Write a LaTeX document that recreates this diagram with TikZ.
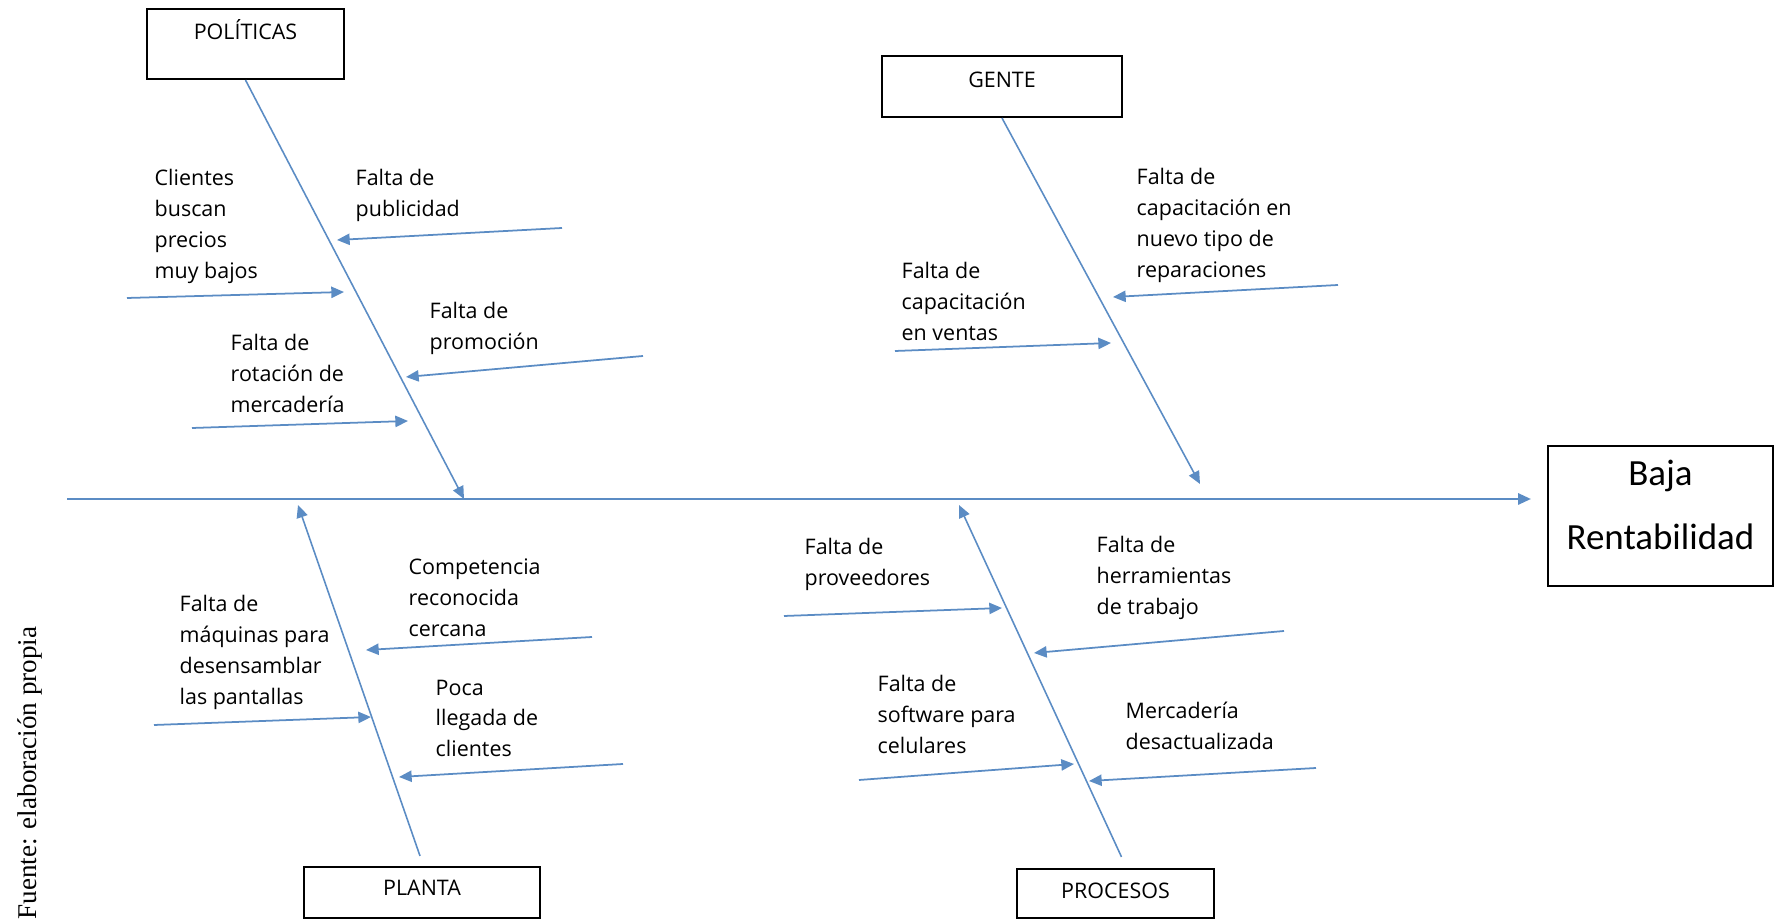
\documentclass[tikz,border=0pt]{standalone}
\usepackage{fontspec}
\setmainfont{Liberation Serif}
\newfontfamily\causafont{Open Sans}
\newfontfamily\efectofont{Carlito}
\usetikzlibrary{arrows.meta, calc}
\definecolor{espina}{RGB}{91,140,196}
\tikzset{
  categoria/.style={
    draw,
    rectangle,
    line width=0.6pt,
    inner sep=0pt,
    text height=4.5pt,
    font=\causafont\fontsize{6.1}{8.8}\selectfont
  },
  efecto/.style={
    draw,
    rectangle,
    line width=0.6pt,
    inner sep=0pt,
    align=center,
    font=\efectofont\fontsize{10.5}{18.2}\selectfont
  },
  causa/.style={
    anchor=north west,
    inner sep=0pt,
    align=left,
    font=\causafont\fontsize{6.1}{8.8}\selectfont
  },
  flecha/.style={
    draw=espina,
    line width=0.5pt,
    -{Triangle[length=3.6pt,width=3.2pt]}
  }
}

\begin{document}
\begin{tikzpicture}[x=0.01cm, y=-0.01cm]
        \useasboundingbox (0,0) rectangle (1775,919);

        % efecto y categorias
        \node[efecto, minimum width=2.25cm, minimum height=1.40cm, text depth=6.3pt] (efe) at (1660.5,516) {Baja\\Rentabilidad};
        \node[categoria, minimum width=1.97cm, minimum height=0.70cm, text depth=7pt] (pol) at (245.5,44) {POLÍTICAS};
        \node[categoria, minimum width=2.40cm, minimum height=0.61cm, text depth=3.9pt] (gen) at (1002,86.5) {GENTE};
        \node[categoria, minimum width=2.36cm, minimum height=0.51cm, text depth=2.8pt] (pla) at (422,892.5) {PLANTA};
        \node[categoria, minimum width=1.97cm, minimum height=0.49cm, text depth=1.6pt] (pro) at (1115.5,893.5) {PROCESOS};

        % espina central
        \coordinate (m0) at (67,499);
        \draw[flecha] (m0) -- ($(m0 -| efe.west)+(-16,0)$);

        % espinas de las categorias
        \coordinate (p0) at (464,499);
        \coordinate (g0) at (1200,484);
        \coordinate (l0) at (298,505);
        \coordinate (r0) at (959,505);
        \draw[flecha, line width=0.45pt] (pol.south) -- (p0);
        \draw[flecha, line width=0.45pt] (gen.south) -- (g0);
        \draw[flecha, line width=0.45pt] ($(pla.north)+(-2,-10)$) -- (l0);
        \draw[flecha, line width=0.45pt] ($(pro.north)+(6,-11)$) -- (r0);

        % causas
        \node[causa] (cl) at (154,169) {Clientes\\buscan\\precios\\muy bajos};
        \node[causa] (pub) at (355,169) {Falta de\\publicidad};
        \node[causa] (prom) at (429,302) {Falta de\\promoción};
        \node[causa] (rot) at (230,334) {Falta de\\rotación de\\mercadería};
        \node[causa] (rep) at (1136,168) {Falta de\\capacitación en\\nuevo tipo de\\reparaciones};
        \node[causa] (ven) at (901,262) {Falta de\\capacitación\\en ventas};
        \node[causa] (comp) at (408,558) {Competencia\\reconocida\\cercana};
        \node[causa] (maq) at (179,595) {Falta de\\máquinas para\\desensamblar\\las pantallas};
        \node[causa] (poca) at (435,679) {Poca\\llegada de\\clientes};
        \node[causa] (prov) at (804,538) {Falta de\\proveedores};
        \node[causa] (herr) at (1096,536) {Falta de\\herramientas\\de trabajo};
        \node[causa] (soft) at (877,675) {Falta de\\software para\\celulares};
        \node[causa] (merc) at (1125,701) {Mercadería\\desactualizada};

        % flechas de las causas
        \foreach \n/\xa/\ya/\xb/\yb in {cl/127/298/344/292, pub/562/228/337/240, prom/643/356/406/377, rot/192/428/408/421,
            rep/1338/285/1113/297, ven/895/351/1111/343,
            comp/592/637/366/650, maq/154/725/371/717, poca/623/764/399/777,
            prov/784/616/1002/608, herr/1284/631/1034/653, soft/859/780/1074/764, merc/1316/768/1089/781}
        {
          \coordinate (\n-cola) at (\xa,\ya);
          \coordinate (\n-punta) at (\xb,\yb);
          \draw[flecha] (\n-cola) -- (\n-punta);
        }

        \node[rotate=90, anchor=base west, inner sep=0pt, font=\fontsize{7.7}{9}\selectfont] (fuente) at (36,920) {Fuente: elaboración propia};
      \end{tikzpicture}
\end{document}
